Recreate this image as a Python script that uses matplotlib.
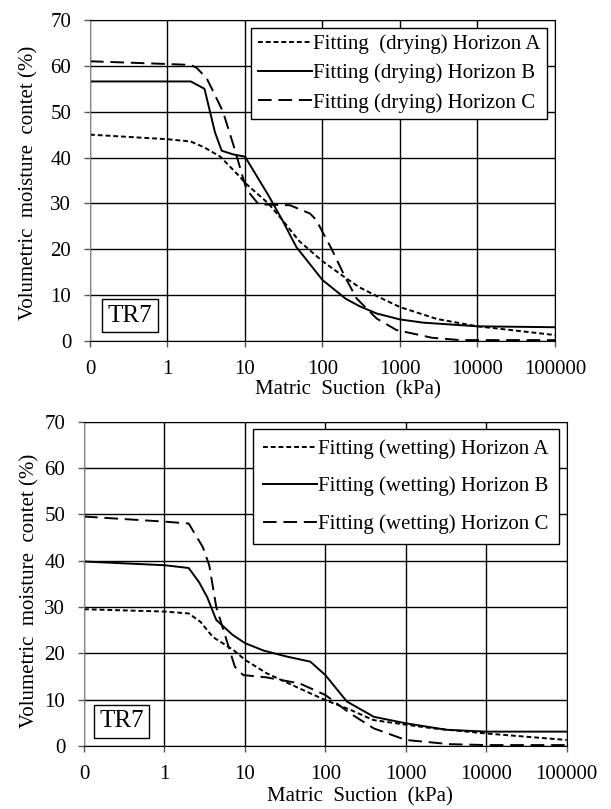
import matplotlib.pyplot as plt
import numpy as np

plt.rcParams['font.family'] = ['Liberation Serif', 'DejaVu Serif']

# drying curves (top panel)
dry_a_x = [0.1, 1, 2, 3, 4.8, 8.6, 10, 20, 30, 50, 100, 190, 300, 500, 1000, 3000, 10000, 30000, 100000]
dry_a_y = [45.0, 44.0, 43.5, 42.2, 40.2, 35.8, 34.5, 30.0, 26.5, 21.8, 17.4, 14.0, 11.7, 9.8, 7.4, 4.8, 3.2, 2.3, 1.3]

dry_b_x = [0.1, 2, 3, 4.1, 5, 7, 10, 20, 30, 46, 100, 200, 300, 500, 1000, 2000, 10000, 100000]
dry_b_y = [56.6, 56.6, 55.0, 45.5, 41.5, 40.7, 40.2, 31.8, 26.5, 20.5, 13.3, 9.2, 7.6, 6.0, 4.7, 4.0, 3.2, 3.0]

dry_c_x = [0.1, 1, 2, 2.4, 3.2, 4, 5.2, 7.1, 9.5, 10.5, 15, 38, 69, 83, 100, 130, 195, 275, 500, 900, 2600, 6000, 100000]
dry_c_y = [61.0, 60.4, 60.2, 59.5, 57.3, 54.0, 50.0, 42.7, 35.4, 33.0, 29.8, 29.6, 27.8, 26.4, 23.8, 20.2, 14.0, 9.3, 4.9, 2.4, 0.7, 0.2, 0.2]

# wetting curves (bottom panel)
wet_a_x = [0.1, 1, 2, 2.8, 4, 7.2, 10, 18.6, 48, 100, 205, 395, 1000, 2200, 10000, 100000]
wet_a_y = [29.5, 29.0, 28.6, 26.8, 23.5, 20.7, 18.6, 15.7, 12.4, 9.9, 7.8, 5.6, 4.6, 3.8, 2.7, 1.3]

wet_b_x = [0.1, 1, 2, 2.7, 3.4, 4.4, 7, 10, 17, 33, 65, 100, 185, 400, 1000, 3200, 10000, 100000]
wet_b_y = [39.8, 39.0, 38.4, 35.3, 32.1, 27.2, 24.0, 22.2, 20.6, 19.3, 18.2, 15.3, 9.6, 6.3, 4.9, 3.5, 3.1, 3.1]

wet_c_x = [0.1, 1, 2, 2.4, 3, 3.6, 4.0, 4.4, 5.9, 7.5, 9.5, 18.6, 48, 100, 205, 400, 1000, 3500, 10000, 100000]
wet_c_y = [49.5, 48.4, 48.0, 45.7, 42.9, 39.0, 34.3, 30.0, 22.9, 17.1, 15.3, 14.8, 13.5, 11.0, 7.0, 3.8, 1.3, 0.4, 0.2, 0.2]

xticks = [0.1, 1, 10, 100, 1000, 10000, 100000]
xlabels = ['0', '1', '10', '100', '1000', '10000', '100000']
yticks = [0, 10, 20, 30, 40, 50, 60, 70]

fig = plt.figure(figsize=(6.11, 8.09), dpi=100)
ax1 = fig.add_axes([0.1473, 1 - 341 / 809, 0.761, 321 / 809])
ax2 = fig.add_axes([0.1375, 1 - 746 / 809, 0.790, 324.5 / 809])

lw = 1.4
style_a = (0, (2.5, 1.5))
style_c = (0, (7, 3.5))
fs = 15


def setup(ax, xlab_pos, ylab_pos):
    ax.set_xscale('log')
    ax.set_xlim(0.1, 100000)
    ax.set_ylim(0, 70)
    ax.set_xticks(xticks)
    ax.set_xticklabels(xlabels)
    ax.minorticks_off()
    ax.set_yticks(yticks)
    ax.grid(True, color='black', linewidth=1.0)
    ax.tick_params(labelsize=fs, direction='out', length=4.5, width=1, color='#555555')
    ax.tick_params(axis='x', pad=9)
    ax.tick_params(axis='y', pad=9)
    for s in ['top', 'right', 'bottom']:
        ax.spines[s].set_color('black')
    ax.spines['left'].set_color('#888888')
    ax.set_xlabel('Matric  Suction  (kPa)', fontsize=fs)
    ax.set_ylabel('Volumetric  moisture  contet (%)', fontsize=fs)
    ax.xaxis.set_label_coords(*xlab_pos)
    ax.yaxis.set_label_coords(*ylab_pos)


setup(ax1, (0.555, -0.122), (-0.11, 0.492))
ax1.plot(dry_a_x, dry_a_y, color='black', lw=lw, linestyle=style_a, label='Fitting  (drying) Horizon A')
ax1.plot(dry_b_x, dry_b_y, color='black', lw=lw, linestyle='-', label='Fitting (drying) Horizon B')
ax1.plot(dry_c_x, dry_c_y, color='black', lw=lw, linestyle=style_c, label='Fitting (drying) Horizon C')
leg1 = ax1.legend(loc='upper right', fontsize=fs, fancybox=False, framealpha=1, edgecolor='black',
                  handlelength=2.6, handletextpad=0.05, labelspacing=0.45, borderaxespad=0.4, borderpad=0.3)
leg1.get_frame().set_linewidth(1.0)
ax1.text(0.086, 0.079, 'TR7', transform=ax1.transAxes, fontsize=18, ha='center', va='center',
         bbox=dict(boxstyle='square,pad=0.22', facecolor='white', edgecolor='black', linewidth=1.0))

setup(ax2, (0.571, -0.126), (-0.093, 0.477))
ax2.plot(wet_a_x, wet_a_y, color='black', lw=lw, linestyle=style_a, label='Fitting (wetting) Horizon A')
ax2.plot(wet_b_x, wet_b_y, color='black', lw=lw, linestyle='-', label='Fitting (wetting) Horizon B')
ax2.plot(wet_c_x, wet_c_y, color='black', lw=lw, linestyle=style_c, label='Fitting (wetting) Horizon C')
leg2 = ax2.legend(loc='upper right', fontsize=fs, fancybox=False, framealpha=1, edgecolor='black',
                  handlelength=2.6, handletextpad=0.05, labelspacing=0.85, borderaxespad=0.35, borderpad=0.5)
leg2.get_frame().set_linewidth(1.0)
ax2.text(0.078, 0.077, 'TR7', transform=ax2.transAxes, fontsize=18, ha='center', va='center',
         bbox=dict(boxstyle='square,pad=0.22', facecolor='white', edgecolor='black', linewidth=1.0))

fig.savefig('out.png', dpi=100, facecolor='white')
